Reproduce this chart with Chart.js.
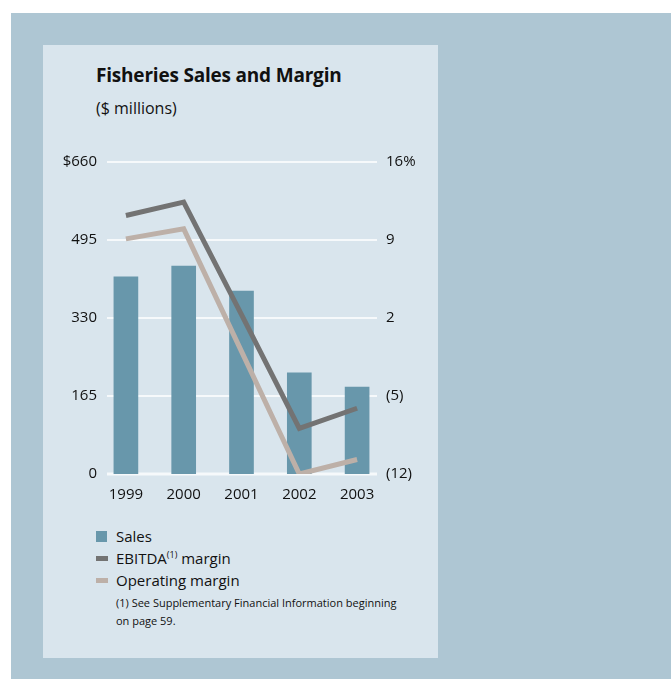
<!DOCTYPE html>
<html lang="en">
<head>
    <meta charset="UTF-8">
    <title>Fisheries Sales and Margin</title>
    <script src="https://cdn.jsdelivr.net/npm/chart.js"></script>
    <style>
        html, body {
            margin: 0;
            padding: 0;
            background: #ffffff;
        }
        .outer {
            position: absolute;
            left: 11px;
            top: 13px;
            width: 660px;
            height: 666px;
            background: #aec6d3;
        }
        .panel {
            position: absolute;
            left: 43px;
            top: 45px;
            width: 395px;
            height: 613px;
            background: #d9e5ed;
            font-family: "Open Sans", sans-serif;
            color: #111;
        }
        .title {
            position: absolute;
            left: 53px;
            top: 17px;
            font-size: 19px;
            font-weight: bold;
            letter-spacing: -0.2px;
            white-space: nowrap;
        }
        .subtitle {
            position: absolute;
            left: 53px;
            top: 52px;
            font-size: 16px;
            white-space: nowrap;
        }
        .chart-box {
            position: absolute;
            left: 0;
            top: 95px;
            width: 395px;
            height: 364px;
        }
        .legend {
            position: absolute;
            left: 53px;
            top: 480px;
            font-size: 15px;
        }
        .legend .row {
            position: relative;
            height: 22px;
            line-height: 22px;
            padding-left: 20px;
            white-space: nowrap;
        }
        .legend .sw {
            position: absolute;
            left: 0;
        }
        .legend sup {
            font-size: 9px;
            line-height: 0;
            vertical-align: 6px;
        }
        .note {
            font-size: 11px;
            line-height: 18px;
            padding-left: 20px;
            margin-top: 3px;
            width: 285px;
        }
    </style>
</head>
<body>
    <div class="outer"></div>
    <div class="panel">
        <div class="title">Fisheries Sales and Margin</div>
        <div class="subtitle">($ millions)</div>
        <div class="chart-box">
            <canvas id="fishChart" width="395" height="364"></canvas>
        </div>
        <div class="legend">
            <div class="row"><span class="sw" style="top:6px;width:11px;height:11px;background:#6897ab"></span>Sales</div>
            <div class="row"><span class="sw" style="top:9px;width:12px;height:5px;background:#737373"></span>EBITDA<sup>(1)</sup> margin</div>
            <div class="row"><span class="sw" style="top:9px;width:12px;height:5px;background:#bdb0a8"></span>Operating margin</div>
            <div class="note">(1) See Supplementary Financial Information beginning on page 59.</div>
        </div>
    </div>

    <script>
        // Fisheries figures by year
        const years = ['1999', '2000', '2001', '2002', '2003'];
        const sales = [417, 440, 387, 214, 184];          // $ millions
        const ebitdaMargin = [11.2, 12.4, 2.3, -7.9, -6.1]; // %
        const operatingMargin = [9.1, 10.0, -1.0, -12.0, -10.7]; // %

        const salesTicks = [0, 165, 330, 495, 660];
        const marginTicks = [-12, -5, 2, 9, 16];

        const tickFont = { family: 'Open Sans', size: 15 };

        // white horizontal rules, drawn a bit inside the plot area
        const ruleLines = {
            id: 'ruleLines',
            beforeDatasetsDraw(chart) {
                const ctx = chart.ctx;
                const y = chart.scales.y;
                const area = chart.chartArea;
                ctx.save();
                ctx.strokeStyle = '#f6f9fb';
                salesTicks.forEach(v => {
                    const py = Math.round(y.getPixelForValue(v));
                    ctx.lineWidth = v === 0 ? 3 : 2;
                    ctx.beginPath();
                    ctx.moveTo(area.left + 10, py);
                    ctx.lineTo(area.right - 9, py);
                    ctx.stroke();
                });
                ctx.restore();
            }
        };

        const ctx = document.getElementById('fishChart').getContext('2d');
        new Chart(ctx, {
            type: 'bar',
            data: {
                labels: years,
                datasets: [
                    {
                        type: 'line',
                        label: 'EBITDA margin',
                        data: ebitdaMargin,
                        yAxisID: 'y1',
                        borderColor: '#737373',
                        borderWidth: 5,
                        borderJoinStyle: 'miter',
                        pointRadius: 0,
                        tension: 0,
                        order: 1
                    },
                    {
                        type: 'line',
                        label: 'Operating margin',
                        data: operatingMargin,
                        yAxisID: 'y1',
                        borderColor: '#bdb0a8',
                        borderWidth: 5,
                        borderJoinStyle: 'miter',
                        pointRadius: 0,
                        tension: 0,
                        order: 2
                    },
                    {
                        label: 'Sales',
                        data: sales,
                        yAxisID: 'y',
                        backgroundColor: '#6897ab',
                        barThickness: 24,
                        order: 3
                    }
                ]
            },
            options: {
                responsive: false,
                animation: false,
                layout: { padding: { top: 22, left: 0, right: 0, bottom: 0 } },
                plugins: {
                    legend: { display: false },
                    tooltip: { enabled: false }
                },
                scales: {
                    x: {
                        grid: { display: false, drawTicks: false },
                        border: { display: false },
                        ticks: { color: '#111', font: tickFont, padding: 12, maxRotation: 0 },
                        afterFit(s) { s.height = 30; }
                    },
                    y: {
                        position: 'left',
                        min: 0,
                        max: 660,
                        afterBuildTicks(s) { s.ticks = salesTicks.map(v => ({ value: v })); },
                        grid: { display: false, drawTicks: false },
                        border: { display: false },
                        ticks: {
                            color: '#111',
                            font: tickFont,
                            padding: 0,
                            callback: v => v === 660 ? '$660' : String(v)
                        },
                        afterFit(s) { s.width = 54; }
                    },
                    y1: {
                        position: 'right',
                        min: -12,
                        max: 16,
                        afterBuildTicks(s) { s.ticks = marginTicks.map(v => ({ value: v })); },
                        grid: { display: false, drawTicks: false },
                        border: { display: false },
                        ticks: {
                            color: '#111',
                            font: tickFont,
                            padding: 0,
                            callback: v => v === 16 ? '16%' : (v < 0 ? '(' + (-v) + ')' : String(v))
                        },
                        afterFit(s) { s.width = 52; }
                    }
                }
            },
            plugins: [ruleLines]
        });
    </script>
</body>
</html>
